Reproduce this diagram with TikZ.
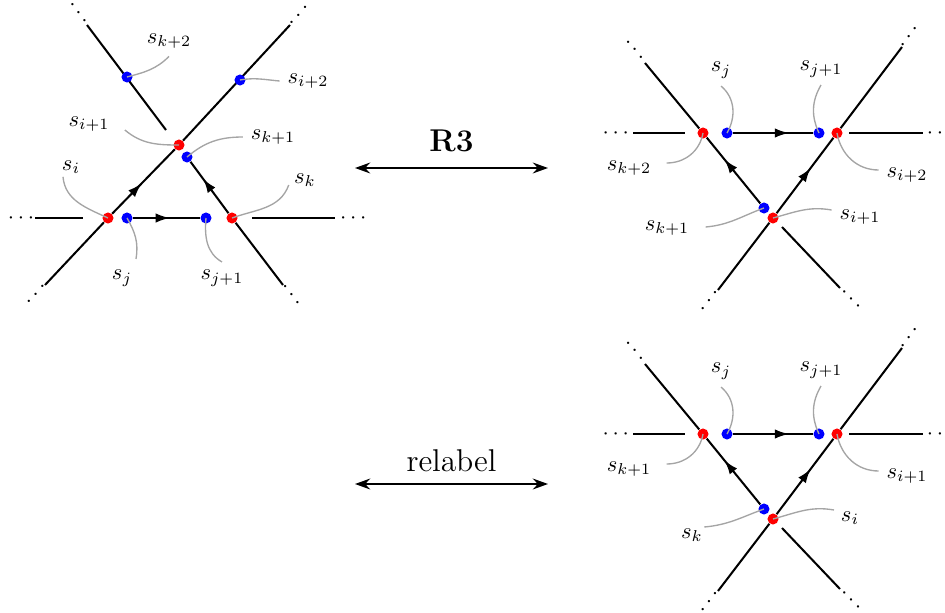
\documentclass[tikz,border=0pt]{standalone}
\usepackage{xcolor}
\usepackage{tikz}
\usetikzlibrary{arrows.meta, positioning, calc, backgrounds, decorations.markings}
\definecolor{dotred}{RGB}{255,0,0}
\definecolor{dotblue}{RGB}{0,0,255}
\definecolor{taggray}{RGB}{165,165,165}
\tikzset{
  strand/.style={line width=0.9pt, color=black},
  midarrow/.style={postaction={decorate}, decoration={markings,
    mark=at position #1 with {\arrow{Latex[length=6.3pt, width=4.2pt]}}}},
  reddot/.style={circle, fill=dotred, inner sep=0pt, minimum size=4.9pt},
  bluedot/.style={circle, fill=dotblue, inner sep=0pt, minimum size=4.9pt},
  tag/.style={color=taggray, line width=0.6pt},
  lbl/.style={font=\normalsize},
  etc/.style={sloped, inner sep=0pt, font=\normalsize},
  movearrow/.style={{Stealth[length=6.7pt, width=4.8pt]}-{Stealth[length=6.7pt, width=4.8pt]},
    line width=0.9pt},
  movelbl/.style={font=\fontsize{14}{17}\selectfont}
}

\begin{document}
\begin{tikzpicture}[x=0.4444pt, y=-0.4444pt]
  \useasboundingbox (0,0) rectangle (945,613);

  % ── left: before the move ──────────────────────────────────────────────────
  \node[reddot]  (si)  at (108,218) {};
  \node[reddot]  (si1) at (179,145) {};
  \node[bluedot] (si2) at (240,80) {};
  \node[bluedot] (sj)  at (127,218) {};
  \node[bluedot] (sj1) at (206,218) {};
  \node[reddot]  (sk)  at (232,218) {};
  \node[bluedot] (sk1) at (187,157) {};
  \node[bluedot] (sk2) at (127,77) {};
  \coordinate (Ab) at (45,285);  \coordinate (At) at (290,25);
  \coordinate (Bt) at (87,25);   \coordinate (Bg) at (166,130);
  \coordinate (Bb) at (283,285);
  \coordinate (Cl) at (35,218);  \coordinate (Ca) at (83,218);
  \coordinate (Cb) at (252,218); \coordinate (Cr) at (335,218);
  \begin{scope}[on background layer]
    % strand through s_i, s_{i+1}, s_{i+2}
    \draw[strand] (Ab) -- (si) node[etc, pos=-0.15] {$\cdots$};
    \draw[strand, midarrow=0.47] (si) -- (si1);
    \draw[strand] (si1) -- (At) node[etc, pos=1.083] {$\cdots$};
    % strand through s_{k+2}, s_{k+1}, s_k (broken under the crossing)
    \draw[strand] (Bt) -- (Bg) node[etc, pos=-0.115] {$\cdots$};
    \draw[strand, midarrow=0.67] (sk) -- (sk1);
    \draw[strand] (sk) -- (Bb) node[etc, pos=1.167] {$\cdots$};
    % strand through s_j, s_{j+1}
    \draw[strand] (Cl) -- (Ca) node[etc, pos=-0.29] {$\cdots$};
    \draw[strand, midarrow=0.55] (sj) -- (sj1);
    \draw[strand] (Cb) -- (Cr) node[etc, pos=1.22] {$\cdots$};
  \end{scope}
  % labels
  \node[lbl] (lk2) at (169,41)  {$s_{k+2}$};
  \node[lbl] (li2) at (308,81)  {$s_{i+2}$};
  \node[lbl] (li1) at (89,124)  {$s_{i+1}$};
  \node[lbl] (lk1) at (273,137) {$s_{k+1}$};
  \node[lbl] (li)  at (71,167)  {$s_i$};
  \node[lbl] (lk)  at (305,180) {$s_k$};
  \node[lbl] (lj)  at (122,278) {$s_j$};
  \node[lbl] (lj1) at (222,278) {$s_{j+1}$};
  \draw[tag] (sk2.center) to[out=15, in=225] (lk2.south);
  \draw[tag] (si2.center) to[out=10, in=175] (li2.west);
  \draw[tag] (si1.center) to[out=180, in=-40] ([shift={(7.5,6)}]li1.east);
  \draw[tag] (sk1.center) to[out=40, in=180] (lk1.west);
  \draw[tag] (si.center) to[out=155, in=-85] ([shift={(-8,-4.7)}]li.south);
  \draw[tag] (sk.center) to[out=20, in=250] ([shift={(2.5,5)}]lk.west);
  \draw[tag] (sj.center) to[out=-60, in=80] ([shift={(-4,-3)}]lj.north east);
  \draw[tag] (sj1.center) to[out=-95, in=150] (lj1.north);

  % ── the moves ──────────────────────────────────────────────────────────────
  \coordinate (r3a) at (355,168);  \coordinate (r3b) at (548,168);
  \coordinate (rla) at (355,484);  \coordinate (rlb) at (548,484);
  \draw[movearrow] (r3a) -- (r3b)
    node[movelbl, midway, above=3.3pt] (r3) {\textbf{R3}};
  \draw[movearrow] (rla) -- (rlb)
    node[movelbl, midway, above=1.6pt] (rl) {relabel};

  % ── right, top: after R3 ───────────────────────────────────────────────────
  \node[reddot]  (tk2) at (703,133) {};
  \node[bluedot] (tj)  at (727,133) {};
  \node[bluedot] (tj1) at (819,133) {};
  \node[reddot]  (ti2) at (837,133) {};
  \node[bluedot] (tk1) at (764,208) {};
  \node[reddot]  (ti1) at (773,218) {};
  \coordinate (TEb) at (718,290); \coordinate (TEt) at (902,47);
  \coordinate (TFt) at (645,63);  \coordinate (TFg) at (782,227);
  \coordinate (TFb) at (840,288);
  \coordinate (TDl) at (633,133); \coordinate (TDa) at (685,133);
  \coordinate (TDb) at (849,133); \coordinate (TDr) at (923,133);
  \begin{scope}[on background layer]
    \draw[strand] (TEb) -- (ti1) node[etc, pos=-0.166] {$\cdots$};
    \draw[strand, midarrow=0.6] (ti1) -- (ti2);
    \draw[strand] (ti2) -- (TEt) node[etc, pos=1.12] {$\cdots$};
    \draw[strand] (TFt) -- (tk2) node[etc, pos=-0.2] {$\cdots$};
    \draw[strand, midarrow=0.67] (tk1) -- (tk2);
    \draw[strand] (TFg) -- (TFb) node[etc, pos=1.186] {$\cdots$};
    \draw[strand] (TDl) -- (TDa) node[etc, pos=-0.33] {$\cdots$};
    \draw[strand, midarrow=0.7] (tj) -- (tj1);
    \draw[strand] (TDb) -- (TDr) node[etc, pos=1.23] {$\cdots$};
  \end{scope}
  \node[lbl] (tlj)  at (721,70)  {$s_j$};
  \node[lbl] (tlj1) at (821,69)  {$s_{j+1}$};
  \node[lbl] (tlk2) at (629,168) {$s_{k+2}$};
  \node[lbl] (tli2) at (907,175) {$s_{i+2}$};
  \node[lbl] (tlk1) at (667,228) {$s_{k+1}$};
  \node[lbl] (tli1) at (860,217) {$s_{i+1}$};
  \draw[tag] (tj.center) to[out=60, in=-40] (tlj.south);
  \draw[tag] (tj1.center) to[out=115, in=240] (tlj1.south);
  \draw[tag] (tk2.center) to[out=-100, in=0] ([shift={(7.5,-5)}]tlk2.east);
  \draw[tag] (ti2.center) to[out=-80, in=180] ([shift={(0,-5)}]tli2.west);
  \draw[tag] (tk1.center) to[out=200, in=5] ([shift={(8.5,-1)}]tlk1.east);
  \draw[tag] (ti1.center) to[out=15, in=170] ([shift={(0,-7)}]tli1.west);

  % ── right, bottom: after relabelling ───────────────────────────────────────
  \begin{scope}[shift={(0,301)}]
    \node[reddot]  (bk1) at (703,133) {};
    \node[bluedot] (bj)  at (727,133) {};
    \node[bluedot] (bj1) at (819,133) {};
    \node[reddot]  (bi1) at (837,133) {};
    \node[bluedot] (bk)  at (764,208) {};
    \node[reddot]  (bi)  at (773,218) {};
    \coordinate (BEb) at (718,290); \coordinate (BEt) at (902,47);
    \coordinate (BFt) at (645,63);  \coordinate (BFg) at (782,227);
    \coordinate (BFb) at (840,288);
    \coordinate (BDl) at (633,133); \coordinate (BDa) at (685,133);
    \coordinate (BDb) at (849,133); \coordinate (BDr) at (923,133);
    \begin{scope}[on background layer]
      \draw[strand] (BEb) -- (bi) node[etc, pos=-0.166] {$\cdots$};
      \draw[strand, midarrow=0.6] (bi) -- (bi1);
      \draw[strand] (bi1) -- (BEt) node[etc, pos=1.12] {$\cdots$};
      \draw[strand] (BFt) -- (bk1) node[etc, pos=-0.2] {$\cdots$};
      \draw[strand, midarrow=0.67] (bk) -- (bk1);
      \draw[strand] (BFg) -- (BFb) node[etc, pos=1.186] {$\cdots$};
      \draw[strand] (BDl) -- (BDa) node[etc, pos=-0.33] {$\cdots$};
      \draw[strand, midarrow=0.7] (bj) -- (bj1);
      \draw[strand] (BDb) -- (BDr) node[etc, pos=1.23] {$\cdots$};
    \end{scope}
    \node[lbl] (blj)  at (721,70)  {$s_j$};
    \node[lbl] (blj1) at (821,69)  {$s_{j+1}$};
    \node[lbl] (blk1) at (629,168) {$s_{k+1}$};
    \node[lbl] (bli1) at (907,175) {$s_{i+1}$};
    \node[lbl] (blk)  at (692,234) {$s_k$};
    \node[lbl] (bli)  at (850,217) {$s_i$};
    \draw[tag] (bj.center) to[out=60, in=-40] (blj.south);
    \draw[tag] (bj1.center) to[out=115, in=240] (blj1.south);
    \draw[tag] (bk1.center) to[out=-100, in=0] ([shift={(7.5,-5)}]blk1.east);
    \draw[tag] (bi1.center) to[out=-80, in=180] ([shift={(0,-5)}]bli1.west);
    \draw[tag] (bk.center) to[out=200, in=5] ([shift={(-6.5,-8)}]blk.east);
    \draw[tag] (bi.center) to[out=15, in=170] ([shift={(1,-8)}]bli.west);
  \end{scope}
\end{tikzpicture}
\end{document}
